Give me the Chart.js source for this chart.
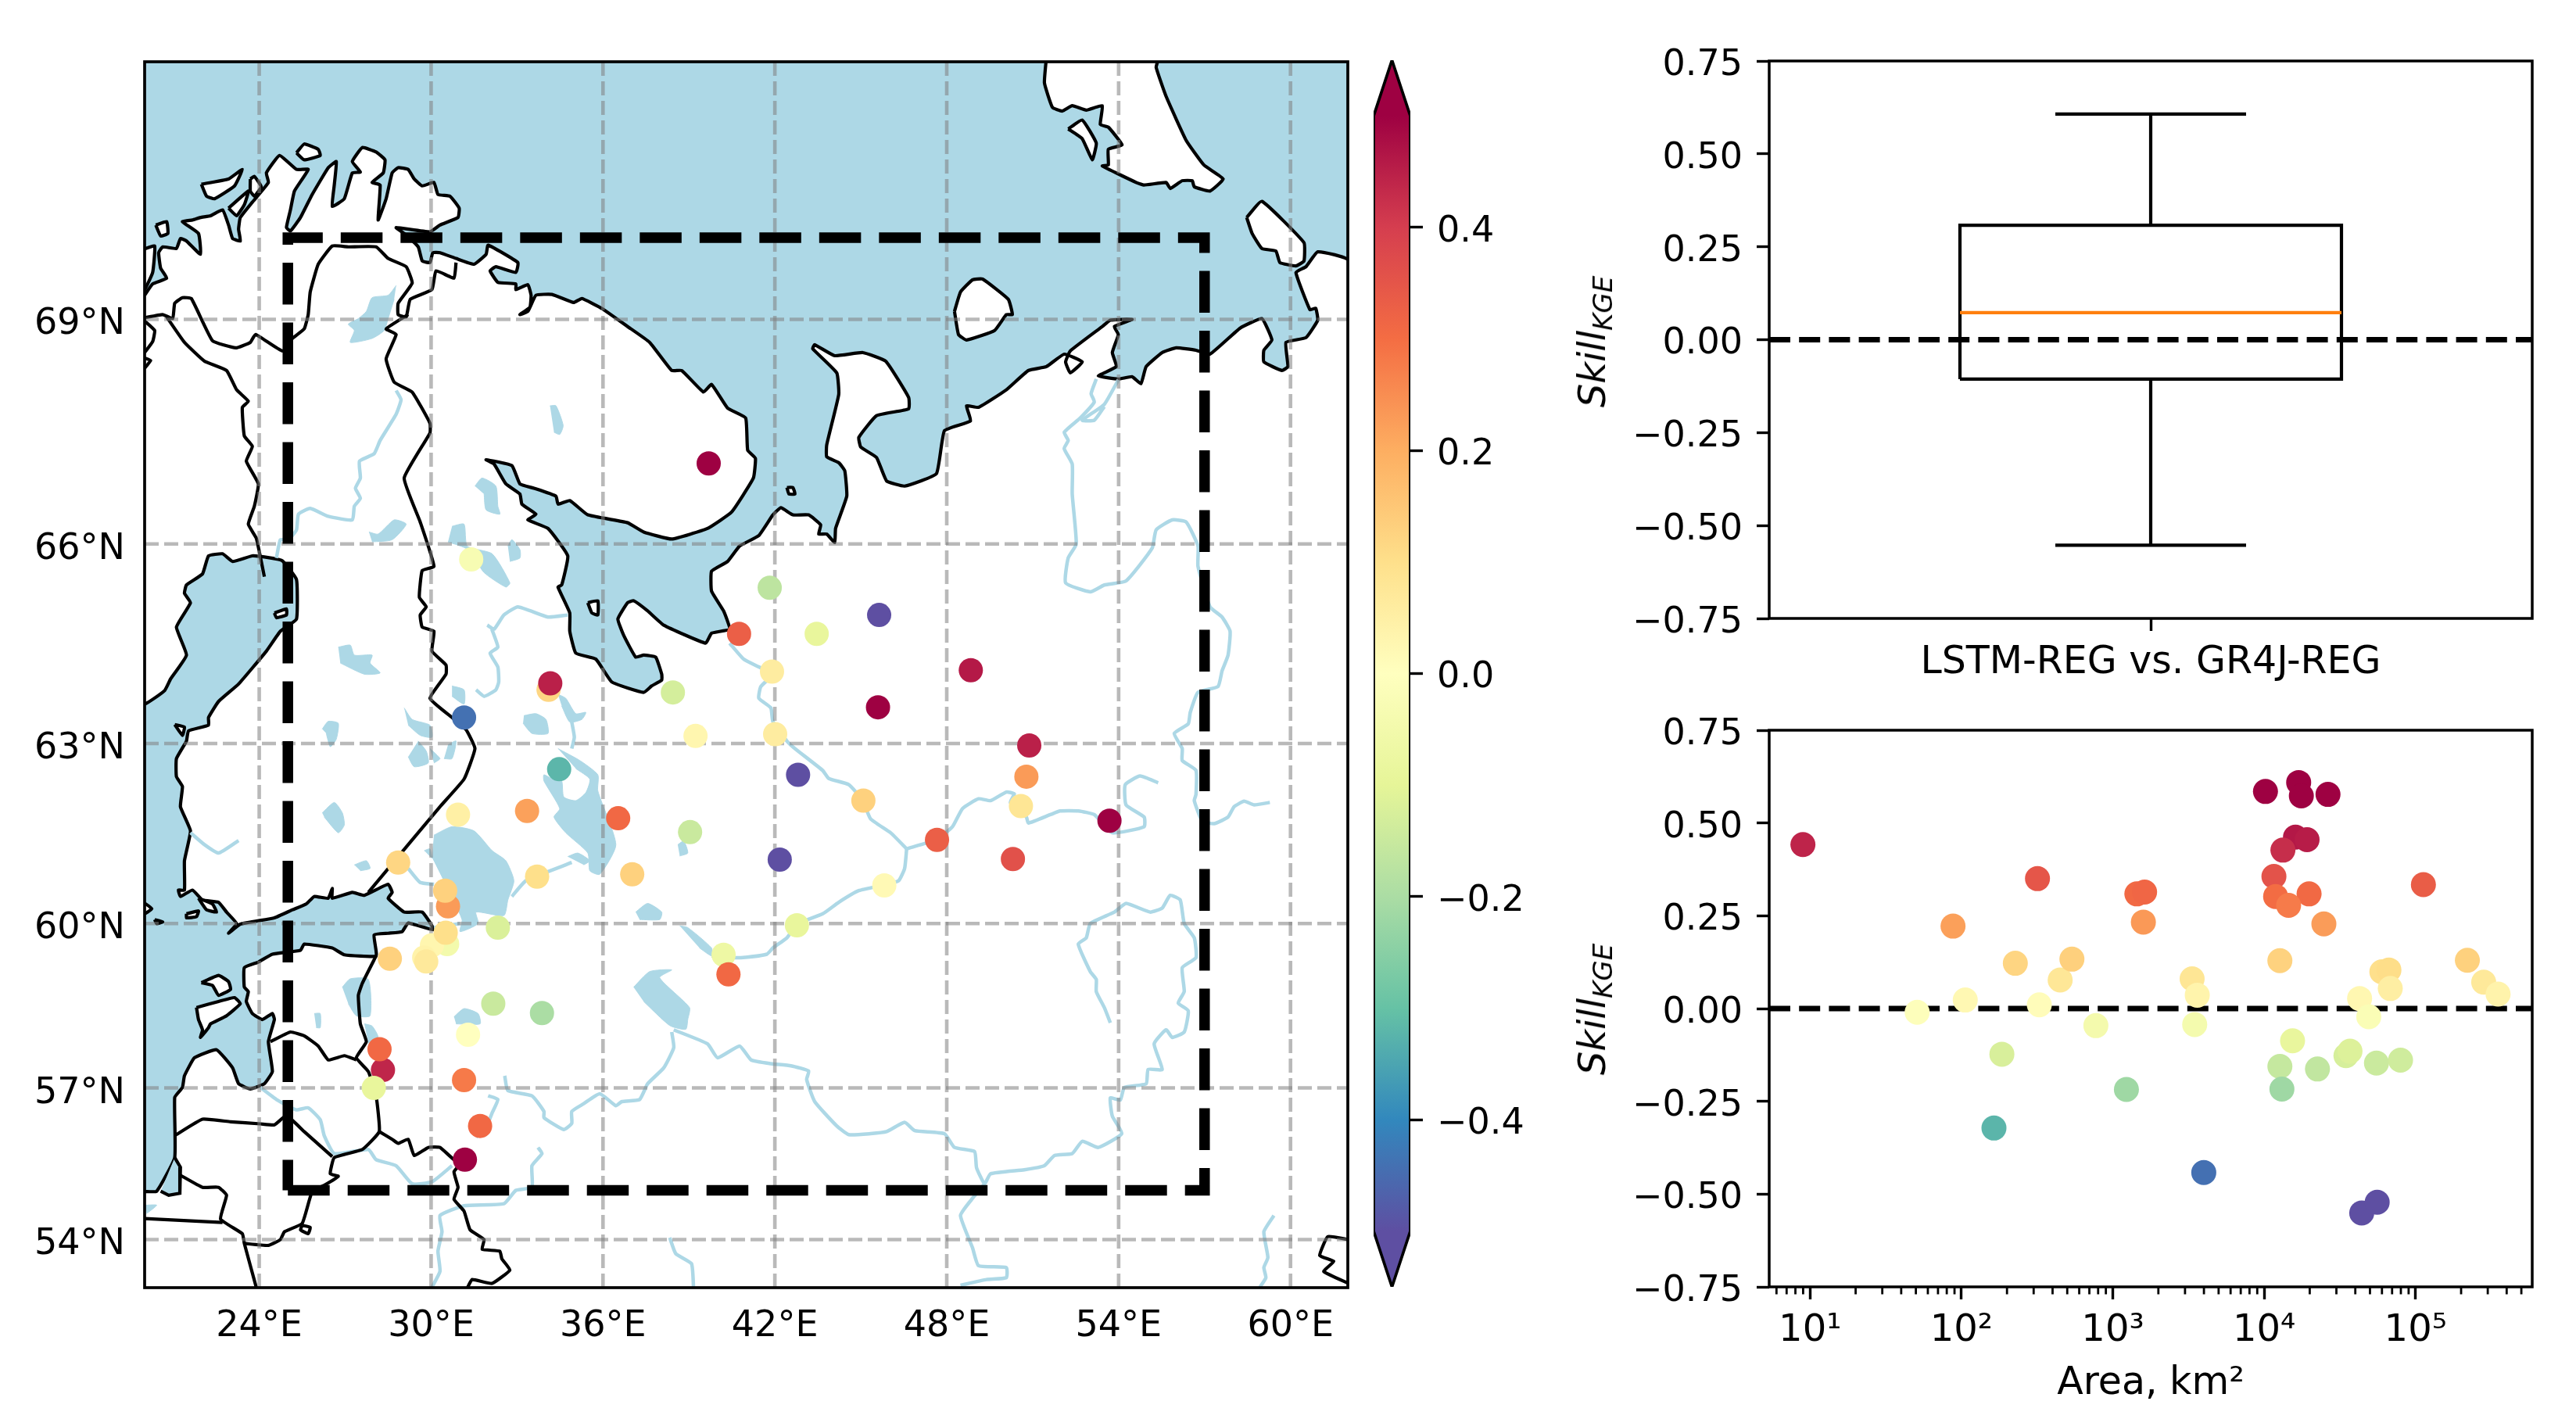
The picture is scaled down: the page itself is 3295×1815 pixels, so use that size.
<!DOCTYPE html>
<html>
<head>
<meta charset="utf-8">
<script src="https://cdn.jsdelivr.net/npm/chart.js@4"></script>
<style>
  html, body { margin: 0; padding: 0; background: #fff; }
  body { width: 3295px; height: 1815px; position: relative; overflow: hidden; }
  canvas { position: absolute; }
  .ylab { position: absolute; font: 48px "DejaVu Sans"; color: #000; white-space: nowrap; transform: translate(-50%, -50%) rotate(-90deg); }
  .ylab i { font-style: italic; }
  .ylab sub { font-size: 34px; font-style: italic; vertical-align: -9px; line-height: 0; }
</style>
</head>
<body>
<canvas id="chart-map" style="left:0;top:0" width="1740" height="1815"></canvas>
<canvas id="chart-cbar" style="left:1740px;top:0" width="250" height="1815"></canvas>
<canvas id="chart-box" style="left:1990px;top:0" width="1305" height="910"></canvas>
<canvas id="chart-area" style="left:1990px;top:850px" width="1305" height="965"></canvas>
<div class="ylab" style="left:2036px;top:437px"><i>Skill</i><sub>KGE</sub></div>
<div class="ylab" style="left:2036px;top:1291px"><i>Skill</i><sub>KGE</sub></div>
<script>
// gauges: lon, lat, skill
const stationLon = [39.69,31.40,40.75,34.10,34.16,41.82,43.46,45.64,48.84,41.90,38.44,39.23,31.15,34.47,30.94,33.35,36.53,39.04,28.85,30.59,30.49,33.70,37.02,32.33,30.56,30.03,30.51,29.76,29.83,28.56,40.21,40.38,32.17,33.87,31.29,28.32,28.20,28.00,31.15,31.71,31.18,45.60,50.88,42.81,50.78,45.09,50.59,53.68,47.66,50.31,42.17,45.82,42.77,42.01];
const stationLat = [67.12,65.78,64.69,63.84,63.94,65.37,64.69,64.97,64.14,64.12,63.80,63.12,63.41,62.59,61.85,61.91,61.79,61.56,61.05,60.30,60.57,60.81,60.85,59.93,59.64,59.62,59.84,59.40,59.33,59.38,59.45,59.10,58.57,58.40,58.00,57.34,57.73,57.00,57.15,56.27,55.61,63.57,62.97,62.50,62.47,62.08,61.99,61.75,61.43,61.11,61.10,60.66,59.97,63.15];
const stationSkill = [0.58,-0.03,0.33,0.12,0.45,-0.17,-0.09,-0.52,0.46,0.06,-0.13,0.03,-0.44,-0.32,0.05,0.22,0.31,-0.15,0.12,0.23,0.13,0.10,0.13,-0.12,-0.05,0.03,0.10,0.04,0.07,0.13,-0.07,0.31,-0.15,-0.20,0.00,0.44,0.31,-0.09,0.28,0.31,0.58,0.58,0.45,-0.55,0.23,0.13,0.08,0.60,0.33,0.36,-0.53,0.02,-0.09,0.06];

// skill against catchment area
const areaKm2 = [8.97,51,88,106,185,164,227,318,327,449,537,773,1230,1442,1622,1592,3342,3614,3476,3990,10200,16900,17600,26400,16100,19200,13300,11600,11900,19800,14500,24800,12700,15400,12700,13100,22500,34700,36900,42700,49100,55200,79600,44100,55800,59900,66700,68100,112700,220000,282000,351000];
const areaSkill = [0.442,-0.01,0.222,0.023,-0.123,-0.322,0.122,0.35,0.01,0.077,0.133,-0.046,-0.218,0.309,0.314,0.233,0.08,0.036,-0.043,-0.442,0.585,0.609,0.573,0.577,0.462,0.455,0.427,0.356,0.302,0.309,0.278,0.228,0.129,-0.087,-0.156,-0.217,-0.163,-0.127,-0.115,0.027,-0.022,-0.147,-0.139,-0.551,-0.522,0.099,0.104,0.054,0.334,0.13,0.071,0.039];

// boxplot stats
const boxLabel = 'LSTM-REG vs. GR4J-REG';
const boxLow = -0.553, boxQ1 = -0.106, boxMedian = 0.073, boxQ3 = 0.308, boxHigh = 0.607;

const skillTicks = [-0.75,-0.5,-0.25,0,0.25,0.5,0.75];
const cbarTicks = [-0.4,-0.2,0,0.2,0.4];
const lonTicks = [24,30,36,42,48,54,60];
const latTicks = [54,57,60,63,66,69];
const areaTicks = [10,100,1000,10000,100000];
const areaTickLabels = ['10¹','10²','10³','10⁴','10⁵'];
const spectralR = ['#5e4fa2','#3288bd','#66c2a5','#abdda4','#e6f598','#ffffbf','#fee08b','#fdae61','#f46d43','#d53e4f','#9e0142'];

// study area box and map extent, degrees
const studyBox = [25,55, 57,55, 57,70, 25,70, 25,55];
const seaExtent = [19,52, 63,52, 63,73, 19,73];

// coast, lon/lat pairs
const coastMain = [20.00,69.30,20.28,69.44,20.77,69.51,20.56,69.63,20.49,69.82,20.63,69.89,21.11,69.87,21.25,69.99,21.46,69.96,21.95,69.80,21.88,70.05,21.32,70.19,21.67,70.21,21.95,70.24,22.30,70.26,22.72,70.33,22.93,70.15,23.07,69.99,23.34,69.96,23.28,70.10,23.34,70.24,23.76,70.42,24.32,70.65,24.25,70.76,24.71,70.96,25.30,70.80,25.71,70.80,25.23,70.55,25.09,70.33,24.95,70.12,25.09,70.08,25.44,70.24,25.85,70.51,26.41,70.82,26.69,70.89,26.62,70.62,26.55,70.37,26.97,70.46,27.25,70.76,27.53,70.77,27.25,70.89,27.60,71.05,28.08,71.00,28.39,70.91,28.33,70.76,27.94,70.65,28.22,70.62,28.15,70.21,28.43,70.46,28.64,70.76,28.85,70.82,29.20,70.80,29.41,70.69,29.69,70.61,30.10,70.65,30.24,70.51,30.66,70.49,30.98,70.35,30.94,70.24,30.31,70.15,29.96,70.07,28.78,70.12,29.06,70.05,29.55,69.89,29.69,69.72,29.96,69.70,30.06,69.82,30.31,69.82,30.87,69.75,31.50,69.68,31.92,69.80,31.99,69.91,33.03,69.70,32.96,69.58,32.26,69.65,32.06,69.60,32.33,69.46,32.96,69.44,32.96,69.37,33.38,69.43,33.49,69.30,33.45,69.15,33.10,69.06,33.38,69.10,33.66,69.30,34.22,69.31,34.98,69.21,35.26,69.26,35.99,69.13,36.86,68.91,37.63,68.71,38.40,68.35,38.75,68.35,39.51,68.07,39.79,68.17,40.35,67.86,40.98,67.73,41.05,67.30,41.32,67.19,41.25,66.92,40.49,66.45,39.65,66.22,38.40,66.07,37.42,66.17,36.86,66.30,35.47,66.41,34.84,66.61,34.43,66.56,34.36,66.67,33.59,66.78,33.10,66.84,32.82,67.09,31.92,67.17,32.20,67.11,32.61,66.84,33.10,66.70,33.17,66.56,33.66,66.42,33.38,66.34,34.08,66.22,34.77,65.83,34.56,65.41,34.43,65.38,34.84,65.00,34.84,64.73,35.05,64.40,35.75,64.31,36.31,63.96,37.42,63.80,37.70,63.90,38.05,63.99,38.05,64.08,37.84,64.34,37.42,64.37,37.14,64.34,36.72,64.67,36.52,64.91,36.86,65.15,37.07,65.18,37.56,65.03,38.12,64.82,39.58,64.55,39.79,64.70,40.42,64.76,40.21,65.03,39.79,65.32,39.79,65.61,40.35,65.75,40.77,65.97,41.44,66.12,41.93,66.41,42.21,66.51,42.63,66.41,43.18,66.41,43.60,66.27,43.53,66.14,43.81,66.14,44.09,66.02,44.12,66.22,44.51,66.67,44.44,67.02,44.23,67.13,43.81,67.21,43.81,67.37,44.23,68.04,44.16,68.32,43.32,68.63,43.39,68.68,44.09,68.54,45.07,68.58,45.87,68.47,46.67,68.00,46.67,67.85,45.55,67.76,44.93,67.47,45.00,67.34,45.55,67.20,45.90,66.88,46.53,66.81,47.64,66.98,47.92,67.56,48.83,67.69,48.69,67.89,49.11,67.87,50.08,68.10,50.85,68.35,51.48,68.40,52.10,68.56,52.73,68.46,52.31,68.32,52.15,68.46,52.31,68.60,53.43,68.91,53.71,68.99,54.47,69.00,53.85,68.91,53.99,68.81,53.78,68.58,53.92,68.40,53.29,68.28,53.99,68.24,54.47,68.27,54.78,68.18,54.96,68.40,55.52,68.58,56.01,68.64,56.70,68.61,57.19,68.56,58.24,68.89,59.00,69.01,59.35,68.74,59.07,68.61,59.07,68.46,59.70,68.35,59.91,68.40,59.84,68.71,60.54,68.77,60.95,68.99,60.88,69.14,60.68,69.12,60.19,69.58,60.54,69.65,60.95,69.83,62.05,69.72,62.05,52.95,19.95,52.95,19.95,54.96,20.42,54.98,21.05,55.65,21.05,56.82,21.32,57.01,21.39,57.23,21.74,57.57,22.51,57.72,23.07,57.38,23.28,57.08,23.69,56.98,24.18,57.08,24.46,57.31,24.32,57.87,24.53,58.28,24.46,58.39,24.11,58.28,23.76,58.39,23.55,58.61,23.62,58.79,23.48,58.87,23.48,59.22,23.97,59.32,24.46,59.46,25.44,59.53,25.57,59.64,26.55,59.57,26.97,59.45,28.08,59.43,28.01,59.80,28.50,59.83,28.99,59.86,29.20,60.01,30.10,59.89,29.69,60.20,29.06,60.20,28.50,60.44,28.64,60.54,28.50,60.68,27.67,60.49,27.25,60.54,26.55,60.44,26.55,60.61,26.41,60.44,25.92,60.47,25.64,60.34,25.16,60.24,24.53,60.10,23.34,59.99,22.93,59.83,23.21,60.00,22.86,60.20,22.58,60.37,22.02,60.41,21.67,60.58,21.25,60.47,21.18,60.58,21.39,60.58,21.39,61.08,21.60,61.58,21.25,61.98,21.32,62.31,21.11,62.47,21.11,62.76,21.46,63.04,21.53,63.20,22.23,63.29,22.23,63.41,22.58,63.66,23.28,63.93,24.25,64.43,24.74,64.73,25.30,64.91,25.30,65.49,24.81,65.76,24.39,65.80,23.76,65.83,23.07,65.75,22.72,65.86,22.23,65.83,22.02,65.57,21.46,65.41,21.39,65.29,21.60,65.15,21.11,64.79,21.46,64.37,20.91,64.01,20.70,63.83,19.95,63.62,19.95,69.30];
const islands = [
  [25.30,70.99,25.57,71.09,26.06,71.03,26.13,70.96,25.57,70.91],
  [21.98,70.63,22.93,70.69,23.41,70.80,23.14,70.61,22.44,70.46,22.16,70.49],
  [22.93,70.35,23.62,70.55,23.48,70.39,23.21,70.26],
  [23.69,70.69,23.83,70.72,24.07,70.60,23.83,70.49,23.69,70.55],
  [20.39,70.15,20.77,70.19,20.81,70.05,20.56,70.02],
  [19.95,69.86,20.35,69.90,20.28,69.58,19.95,69.34],
  [48.27,69.10,48.48,69.34,48.90,69.49,49.25,69.50,50.15,69.25,50.29,69.06,50.08,69.06,49.67,68.86,48.69,68.74,48.41,68.81],
  [58.47,70.24,59.00,70.43,60.47,69.94,60.47,69.72,60.19,69.66,59.63,69.70,59.49,69.84,59.00,69.87,58.66,70.05],
  [51.48,72.05,51.41,71.77,51.69,71.50,52.03,71.46,52.38,71.52,52.87,71.47,53.43,71.52,53.36,71.31,53.64,71.28,54.12,71.08,53.64,71.03,53.64,70.85,53.43,70.84,54.61,70.65,54.89,70.62,55.66,70.65,55.80,70.58,56.22,70.67,56.57,70.67,56.64,70.60,57.19,70.55,57.65,70.69,56.98,70.85,56.36,71.13,55.66,71.62,55.31,71.94,55.38,72.05],
  [52.24,71.26,52.73,71.36,53.22,71.10,53.08,70.91,52.73,71.15],
  [42.42,66.79,42.63,66.79,42.70,66.70,42.49,66.70],
  [35.47,65.15,35.82,65.18,35.82,64.97,35.61,65.00],
  [24.53,65.00,24.95,65.06,24.95,64.97,24.60,64.93],
  [21.98,58.95,22.58,59.08,22.93,58.97,23.00,58.83,22.58,58.72,22.37,58.90],
  [21.81,58.50,22.58,58.61,23.14,58.68,23.34,58.57,22.86,58.35,22.30,58.20,22.23,58.13,21.95,57.95,22.02,58.09,21.88,58.28],
  [19.95,60.37,20.25,60.26,19.95,60.16],
  [20.35,60.07,20.63,60.03,20.42,60.00],
  [21.46,60.17,21.88,60.22,21.81,60.12,21.46,60.10],
  [21.88,60.44,22.37,60.34,22.51,60.20,22.16,60.24],
  [21.05,63.30,21.39,63.26,21.32,63.13]
];
const lagoons = [[21.05,55.65,21.25,55.46,21.23,54.94,20.84,54.90,20.56,54.98]];
const borders = [
  [20.00,69.02,20.63,69.06,20.98,69.01,21.05,69.20,21.32,69.27,21.63,69.26,22.37,68.73,23.18,68.64,23.69,68.71,23.87,68.81,24.81,68.60,25.16,68.76,25.57,68.88,25.71,69.06,25.78,69.34,26.06,69.68,26.55,69.90,27.11,69.89,28.08,69.89,28.50,69.75,29.13,69.65,29.34,69.45,28.85,69.20,28.85,69.06,29.13,69.03,29.27,69.25,30.03,69.37,30.17,69.60,30.80,69.51,30.87,69.70],
  [20.77,69.03,21.39,68.71,22.09,68.47,22.86,68.35,23.21,68.10,23.62,67.95,23.41,67.87,23.48,67.49,23.76,67.35,23.55,67.15,23.97,66.84,23.83,66.53,23.62,66.28,23.90,66.08,24.18,65.53],
  [29.20,69.06,28.43,68.88,28.78,68.81,28.43,68.50,28.71,68.20,29.34,68.07,29.96,67.66,29.96,67.53,29.06,66.92,29.62,66.31,30.10,65.68,29.69,65.62,29.59,65.23,29.83,65.09,29.62,64.97,29.69,64.79,30.10,64.73,30.03,64.43,30.52,64.22,30.52,64.08,29.96,63.71,30.73,63.41,31.22,63.22,31.53,62.92,31.15,62.43,30.31,61.98,29.20,61.35,27.81,60.54],
  [28.08,59.43,27.60,58.94,27.46,58.72,27.53,58.20,27.74,57.87,27.39,57.57,27.81,57.31,28.08,56.85,28.19,56.16,27.60,55.81,26.62,55.65,26.48,55.33,26.76,55.28,26.27,55.10,25.85,54.98,25.50,54.33,24.88,54.16,24.74,54.00,24.32,53.88,23.48,53.92],
  [24.39,57.87,25.09,58.05,25.57,57.98,26.06,57.79,26.41,57.53,26.97,57.61,27.39,57.53],
  [21.05,56.08,22.02,56.40,23.00,56.35,24.04,56.31,24.53,56.29,24.95,56.47,25.57,56.16,26.55,55.67],
  [28.19,56.16,28.64,56.01,28.85,55.93,29.20,56.01,29.41,55.69,29.90,55.85,30.31,55.85,30.80,55.61,31.15,55.61,30.80,55.37,30.94,55.06,30.80,54.82,31.15,54.58,31.36,54.20,31.85,54.00,31.78,53.80,32.40,53.76,32.47,53.60,32.75,53.37,32.13,53.09,31.43,53.17,31.26,52.99],
  [21.25,55.30,22.02,55.06,22.58,55.06,22.86,54.90,22.65,54.42,23.41,54.12,23.48,53.92,23.90,53.00],
  [22.72,54.35,20.00,54.43],
  [25.50,54.29,25.78,54.25,25.71,54.12,25.44,54.20,25.50,54.29],
  [62.02,54.00,61.30,54.06,61.02,53.67,61.51,53.55,61.16,53.34,62.02,53.09],
  [20.00,68.98,20.35,68.86,20.28,68.72,20.00,68.58],
  [20.00,68.51,20.21,68.48,20.00,68.38]
];
const lakes = [
  [28.78,69.42,28.50,69.30,27.94,69.27,27.74,69.10,27.46,69.01,27.11,68.94,27.32,68.86,27.18,68.71,27.94,68.76,28.36,68.86,28.50,69.01,28.71,69.25],
  [34.15,67.89,34.36,67.89,34.61,67.63,34.49,67.51,34.29,67.54],
  [31.53,66.81,31.78,66.92,32.26,66.81,32.33,66.53,32.40,66.42,31.92,66.48,31.85,66.70],
  [30.73,66.25,31.15,66.28,31.26,65.97,32.13,65.86,32.75,65.44,32.61,65.38,31.85,65.59,31.29,65.92,30.59,66.03],
  [32.68,65.97,32.82,66.06,33.10,65.92,33.10,65.80,32.75,65.75],
  [27.83,66.17,28.15,66.14,28.71,66.34,29.13,66.28,28.64,66.06,27.94,66.03],
  [26.76,64.49,27.18,64.52,27.32,64.37,27.94,64.37,27.87,64.25,28.22,64.10,27.67,64.08,26.83,64.25],
  [30.73,63.90,31.15,63.84,31.15,63.62,30.73,63.74],
  [34.43,63.77,34.70,63.71,35.05,63.47,35.40,63.49,35.26,63.38,34.84,63.34,34.56,63.59],
  [33.24,63.44,33.66,63.47,34.01,63.38,34.08,63.16,33.52,63.16,33.21,63.32],
  [29.06,63.56,29.34,63.38,29.96,63.29,30.03,63.10,29.62,63.13,29.20,63.29],
  [26.20,63.23,26.41,63.35,26.76,63.32,26.69,63.07,26.48,62.95,26.34,63.16],
  [29.55,63.04,29.83,62.88,29.90,62.69,29.41,62.63,29.20,62.79],
  [29.96,62.92,30.31,62.76,30.10,62.69],
  [30.59,62.98,30.87,63.04,30.73,62.76,30.45,62.76],
  [34.43,62.92,35.19,62.73,35.82,62.50,35.82,62.24,36.45,61.35,35.89,60.85,35.54,60.91,35.47,61.21,34.70,61.55,34.29,61.81,34.49,61.95,33.94,62.40,33.94,62.50,34.36,62.40,34.56,62.40,34.63,62.14,35.05,62.08,35.40,62.21,35.54,62.43,35.05,62.60],
  [30.10,61.51,30.73,61.65,31.50,61.58,32.13,61.25,32.61,61.08,32.89,60.74,32.68,60.41,32.54,60.14,31.57,60.20,31.64,60.00,31.01,59.86,31.08,60.07,30.45,60.74,30.03,61.15],
  [29.76,61.25,29.96,61.28,30.03,61.12],
  [30.80,58.33,31.15,58.48,31.64,58.39,31.71,58.20,30.87,58.20],
  [26.90,58.87,27.18,59.02,27.81,59.01,27.87,58.35,27.39,58.35,27.11,58.57],
  [25.92,58.39,26.13,58.39,26.13,58.13,25.99,58.13],
  [27.67,58.20,27.94,58.16,28.15,57.95,27.81,57.84],
  [37.07,58.87,37.63,59.15,38.40,59.18,37.98,59.04,39.02,58.50,38.96,58.28,38.89,58.10,38.33,58.17,37.42,58.61],
  [37.14,60.20,37.56,60.35,38.05,60.20,37.98,60.07,37.28,60.07],
  [26.20,61.88,26.62,62.05,26.90,61.88,26.97,61.68,26.76,61.55,26.27,61.81],
  [38.61,61.35,38.82,61.41,38.96,61.21,38.68,61.16],
  [27.32,61.01,27.74,61.08,27.87,60.95,27.53,60.91],
  [38.68,59.96,38.96,59.93,39.79,59.57,39.79,59.43,39.37,59.57],
  [34.77,61.15,35.12,61.21,35.54,61.08,35.33,61.01],
  [20.00,54.70,20.42,54.70,20.07,54.53]
];
const rivers = [
  [28.78,68.09,28.95,67.97,28.78,67.78,28.22,67.43,28.01,67.25,27.50,67.15,27.53,66.92,27.36,66.78,27.53,66.64,27.32,66.53,27.25,66.34,26.41,66.39,25.78,66.50,25.37,66.42,25.30,66.20,25.02,66.06,24.74,66.06,24.60,65.80],
  [31.96,64.82,32.20,64.76,32.54,64.97,33.03,65.09,34.08,64.94,34.77,64.97],
  [32.12,64.76,32.33,64.49,32.06,64.40,32.33,64.19,32.36,63.96,32.26,63.84,31.85,63.74,31.57,63.84],
  [53.22,68.24,53.04,68.05,53.15,67.94,52.66,67.73,52.10,67.54,52.24,67.43,52.10,67.32,52.38,67.11,52.38,66.70,52.52,66.00,52.24,65.80,52.15,65.44,53.01,65.31,53.50,65.41,54.26,65.47,55.17,65.94,55.31,66.20,55.87,66.34,56.36,66.31,56.77,65.97,56.77,65.68,57.19,65.09,57.61,64.94,57.89,64.73,57.82,64.37,57.61,64.13,57.47,63.89,56.77,63.80,56.50,63.49,56.43,63.31,55.94,63.16,56.22,62.92,56.22,62.73,56.70,62.57,56.70,62.18,56.64,62.08,56.91,61.75,57.33,61.70,57.82,61.81,58.03,61.98,58.38,62.07,58.73,62.01,59.28,62.05],
  [53.99,68.23,53.50,67.91,52.73,67.70,53.15,67.70,53.50,67.88],
  [40.42,64.55,40.91,64.31,41.44,64.19,41.93,64.08,41.51,63.89,41.44,63.71,41.86,63.56,41.93,63.35,42.42,63.04,42.70,62.92,43.67,62.57,43.88,62.44,44.58,62.34,45.07,62.08,45.34,61.78,46.04,61.55,46.60,61.28],
  [46.60,61.28,47.66,61.44,48.20,61.65,48.55,61.95,49.11,62.11,49.53,62.08,50.08,62.22,50.36,62.19,50.22,62.05,50.78,61.81,50.85,61.71,51.62,61.85,51.96,61.91,52.59,61.91,53.15,61.85,53.78,61.55,54.89,61.65,54.89,61.81,54.26,62.01,54.23,62.34,54.75,62.48,55.38,62.37],
  [46.60,61.28,46.53,60.95,46.32,60.74,45.83,60.67,44.93,60.57,44.23,60.37,43.67,60.17,42.77,59.99,42.42,59.75,41.93,59.57,41.72,59.46,40.89,59.40,40.49,59.40,39.79,59.43],
  [38.40,58.05,38.47,57.76,38.12,57.38,37.56,57.08,37.28,56.78,36.66,56.74,36.45,56.66,35.89,56.89,35.33,56.70,34.91,56.55,34.91,56.32,34.63,56.20,33.94,56.43,33.94,56.55,33.52,56.85,32.68,56.95,32.57,57.23],
  [38.47,58.09,39.65,57.83,40.00,57.57,40.77,57.79,41.17,57.53,41.86,57.46,42.56,57.42,43.18,57.32,43.11,57.16,43.39,56.74,44.16,56.27,44.58,56.10,45.34,56.12,45.90,56.16,46.53,56.34,46.88,56.18,47.92,56.12,48.27,55.85,48.97,55.77,49.04,55.45,49.32,55.13,49.53,55.33,50.71,55.41,51.41,55.49,51.76,55.69,52.38,55.73,52.73,55.97,53.29,55.85,54.11,56.12,53.78,56.46,53.71,56.81,54.06,56.77,54.20,57.01,54.96,57.08,55.03,57.35,55.52,57.35,55.24,57.83,55.66,58.09,55.87,57.95,56.29,58.05,56.43,58.44,56.08,58.58,56.29,58.79,56.22,59.22,56.70,59.40,56.64,59.75,56.29,60.00,56.15,60.41,55.80,60.49,55.52,60.27,55.10,60.20,54.26,60.35,53.85,60.20,53.01,60.00,52.87,59.75,52.59,59.64,53.01,59.15,53.22,59.01,53.22,58.79,53.50,58.50,53.71,58.22],
  [49.32,55.13,48.86,54.81,48.48,54.49,48.90,53.83,49.11,53.46,50.08,53.42,50.08,53.21,49.39,53.17,48.48,53.05],
  [59.42,54.49,59.07,54.16,59.21,53.63,59.07,53.42,59.14,53.21,58.93,53.01],
  [24.04,57.01,24.60,56.78,25.30,56.58,25.71,56.62,26.13,56.39,26.27,56.08,26.62,55.73,27.81,55.81,28.08,55.61,28.78,55.49,29.34,55.13,30.03,55.17,30.73,55.49],
  [31.99,56.85,32.33,56.78,32.12,56.51,31.92,56.24,31.57,56.05],
  [33.73,55.85,33.87,55.73,33.52,55.49,33.52,55.06,32.96,55.00,32.54,54.73,31.15,54.69,30.31,54.49,30.38,54.16,30.24,53.76,30.31,53.34,30.03,53.01],
  [38.33,54.04,38.54,53.71,39.09,53.50,39.16,53.01],
  [29.20,60.95,29.62,60.71,30.10,60.68],
  [30.10,59.93,31.01,60.00],
  [32.82,60.47,33.31,60.74,34.91,61.05],
  [21.60,61.55,22.09,61.35,22.58,61.21,23.28,61.42],
  [34.91,63.34,35.00,63.10,34.91,62.92]
];

const SEA = '#add8e6';
const FONT = 'DejaVu Sans';
const FS = 46;
const FS_LABEL = 49;
const COAST_W = 4.2;

Chart.defaults.font.family = FONT;
Chart.defaults.font.size = FS;
Chart.defaults.color = '#000';
Chart.defaults.animation = false;
Chart.defaults.responsive = false;
Chart.defaults.devicePixelRatio = 1;
Chart.defaults.events = [];
Chart.defaults.plugins.legend.display = false;
Chart.defaults.plugins.tooltip.enabled = false;

// Mercator northing in degrees, the map's y axis
const merc = (lat) => Math.log(Math.tan(Math.PI / 4 + lat * Math.PI / 360)) * 180 / Math.PI;
const minus = (s) => s.replace('-', '\u2212');

const hexToRgb = (h) => [1, 3, 5].map(i => parseInt(h.slice(i, i + 2), 16));
const spectral = (v) => {
    const t = Math.max(0, Math.min(1, v + 0.5)) * (spectralR.length - 1);
    const i = Math.min(Math.floor(t), spectralR.length - 2);
    const a = hexToRgb(spectralR[i]), b = hexToRgb(spectralR[i + 1]);
    const c = a.map((x, k) => Math.round(x + (b[k] - x) * (t - i)));
    return `rgb(${c[0]},${c[1]},${c[2]})`;
};

const toPts = (flat) => {
    const pts = [];
    for (let i = 0; i < flat.length; i += 2) pts.push({ x: flat[i], y: merc(flat[i + 1]) });
    return pts;
};

const outline = (data, o) => Object.assign({ data, showLine: true, pointRadius: 0, borderWidth: 0, fill: false, tension: 0, spanGaps: true }, o);

// draws the full axes box, matplotlib style
const framePlugin = (lw) => ({
    id: 'frame',
    afterDatasetsDraw(chart) {
        const { ctx, chartArea: a } = chart;
        ctx.save();
        ctx.strokeStyle = '#000';
        ctx.lineWidth = lw;
        ctx.strokeRect(a.left, a.top, a.right - a.left, a.bottom - a.top);
        ctx.restore();
    }
});

// canvas 'middle' sits above the digit centre, push y labels down to the tick
const centreYLabels = (dy) => ({
    id: 'centreYLabels',
    beforeDraw(chart) {
        chart.scales.y.getLabelItems().forEach(item => { item.options.translation[1] += dy; });
    }
});

const fixedTicks = (vals) => (scale) => { scale.ticks = vals.map(value => ({ value })); };

const yAxis = (vals, width, extra) => Object.assign({
    type: 'linear',
    afterBuildTicks: fixedTicks(vals),
    afterFit: (s) => { s.width = width; },
    border: { display: false },
    grid: { drawOnChartArea: false, tickLength: 16, tickColor: '#000', tickWidth: 3.4 },
    ticks: { autoSkip: false, padding: 18, color: '#000', callback: (v) => minus(v.toFixed(2)) }
}, extra);

const order = (sets) => { sets.forEach((d, i) => { d.order = sets.length - i; }); return sets; };

// ---- map ----
const renderMap = () => {
    const sets = [];
    sets.push(outline(toPts(seaExtent), { fill: 'shape', backgroundColor: SEA }));
    sets.push(outline(toPts(coastMain), { fill: 'shape', backgroundColor: '#fff', borderColor: '#000', borderWidth: COAST_W, tension: 0.12 }));
    islands.forEach(p => sets.push(outline(toPts(p.concat(p.slice(0, 2))), { fill: 'shape', backgroundColor: '#fff', borderColor: '#000', borderWidth: COAST_W, tension: 0.12 })));
    lagoons.forEach(p => sets.push(outline(toPts(p), { fill: 'shape', backgroundColor: SEA, borderColor: '#000', borderWidth: COAST_W })));
    lakes.forEach(p => sets.push(outline(toPts(p), { fill: 'shape', backgroundColor: SEA, borderColor: SEA, borderWidth: 1, tension: 0.2 })));
    rivers.forEach(p => sets.push(outline(toPts(p), { borderColor: SEA, borderWidth: 4.5, tension: 0.15 })));
    borders.forEach(p => sets.push(outline(toPts(p), { borderColor: '#000', borderWidth: COAST_W, tension: 0.12 })));
    lonTicks.forEach(lon => sets.push(outline(toPts([lon, 53, lon, 72]), { borderColor: 'rgba(128,128,128,0.55)', borderWidth: 4.6, borderDash: [18, 7] })));
    latTicks.forEach(lat => sets.push(outline(toPts([20, lat, 62, lat]), { borderColor: 'rgba(128,128,128,0.55)', borderWidth: 4.6, borderDash: [18, 7] })));
    sets.push(outline(toPts(studyBox), { borderColor: '#000', borderWidth: 13.5, borderDash: [53.5, 23] }));
    sets.push({
        data: stationLon.map((lon, i) => ({ x: lon, y: merc(stationLat[i]) })),
        pointRadius: 15.5,
        pointBorderWidth: 0,
        pointBackgroundColor: stationSkill.map(spectral)
    });

    new Chart(document.getElementById('chart-map'), {
        type: 'scatter',
        data: { datasets: order(sets) },
        options: {
            layout: { autoPadding: false, padding: { left: 25, top: 79, right: 16, bottom: 8 } },
            scales: {
                x: {
                    type: 'linear', min: 20, max: 62,
                    afterBuildTicks: fixedTicks(lonTicks),
                    afterFit: (s) => { s.height = 160; },
                    border: { display: false },
                    grid: { display: false, drawTicks: false },
                    ticks: { autoSkip: false, maxRotation: 0, padding: 22, color: '#000', callback: (v) => v + '°E' }
                },
                y: {
                    type: 'linear', min: merc(53), max: merc(72),
                    afterBuildTicks: fixedTicks(latTicks.map(merc)),
                    afterFit: (s) => { s.width = 160; },
                    border: { display: false },
                    grid: { display: false, drawTicks: false },
                    ticks: { autoSkip: false, padding: 25, color: '#000', callback: (v, i) => latTicks[i] + '°N' }
                }
            }
        },
        plugins: [framePlugin(3.7), centreYLabels(7)]
    });
};

// ---- colour bar ----
const renderColorbar = () => {
    new Chart(document.getElementById('chart-cbar'), {
        type: 'scatter',
        data: {
            datasets: [outline([
                { x: 0, y: 0.5 }, { x: 0.5, y: 0.55 }, { x: 1, y: 0.5 }, { x: 1, y: -0.5 }, { x: 0.5, y: -0.55 }, { x: 0, y: -0.5 }, { x: 0, y: 0.5 }
            ], {
                fill: 'shape',
                borderColor: '#000',
                borderWidth: 3.7,
                backgroundColor: (c) => {
                    const { chart } = c;
                    if (!chart.chartArea) return spectralR[5];
                    const y = chart.scales.y;
                    const g = chart.ctx.createLinearGradient(0, y.getPixelForValue(-0.5), 0, y.getPixelForValue(0.5));
                    spectralR.forEach((col, i) => g.addColorStop(i / (spectralR.length - 1), col));
                    return g;
                }
            })]
        },
        options: {
            layout: { autoPadding: false, padding: { left: 17, top: 77, right: 36, bottom: 169 } },
            scales: {
                x: { type: 'linear', min: 0, max: 1, display: false },
                y: yAxis(cbarTicks, 150, {
                    position: 'right', min: -0.55, max: 0.55,
                    ticks: { autoSkip: false, padding: 18, color: '#000', callback: (v) => minus(v.toFixed(1)) }
                })
            }
        },
        plugins: [centreYLabels(6)]
    });
};

// ---- boxplot ----
const renderBox = () => {
    const black = { borderColor: '#000', borderWidth: 4.2 };
    const line = (a, b, c, d, o) => outline([{ x: a, y: b }, { x: c, y: d }], o);
    const sets = [
        line(1, boxQ3, 1, boxHigh, black),
        line(1, boxQ1, 1, boxLow, black),
        line(0.875, boxHigh, 1.125, boxHigh, black),
        line(0.875, boxLow, 1.125, boxLow, black),
        outline([{ x: 0.75, y: boxQ1 }, { x: 1.25, y: boxQ1 }, { x: 1.25, y: boxQ3 }, { x: 0.75, y: boxQ3 }, { x: 0.75, y: boxQ1 }], black),
        line(0.75, boxMedian, 1.25, boxMedian, { borderColor: '#ff7f0e', borderWidth: 4.2 }),
        line(0.5, 0, 1.5, 0, { borderColor: '#000', borderWidth: 6.8, borderDash: [27, 11.2] })
    ];
    new Chart(document.getElementById('chart-box'), {
        type: 'scatter',
        data: { datasets: order(sets) },
        options: {
            layout: { autoPadding: false, padding: { left: 23, top: 78, right: 56, bottom: 19 } },
            scales: {
                x: {
                    type: 'linear', min: 0.5, max: 1.5,
                    afterBuildTicks: fixedTicks([1]),
                    afterFit: (s) => { s.height = 100; },
                    border: { display: false },
                    grid: { drawOnChartArea: false, tickLength: 16, tickColor: '#000', tickWidth: 3.4 },
                    ticks: { autoSkip: false, maxRotation: 0, padding: 12, color: '#000', font: { size: FS_LABEL }, callback: () => boxLabel }
                },
                y: yAxis(skillTicks, 250, { min: -0.75, max: 0.75 })
            }
        },
        plugins: [framePlugin(3.5), centreYLabels(6)]
    });
};

// ---- skill vs area ----
const minorTicks = {
    id: 'minorTicks',
    afterDraw(chart) {
        const { ctx, scales: { x }, chartArea: a } = chart;
        ctx.save();
        ctx.strokeStyle = '#000';
        ctx.lineWidth = 2.8;
        areaTicks.concat([1]).forEach(decade => {
            for (let m = 2; m <= 9; m++) {
                const v = decade * m;
                if (v < x.min || v > x.max) continue;
                const px = x.getPixelForValue(v);
                ctx.beginPath();
                ctx.moveTo(px, a.bottom);
                ctx.lineTo(px, a.bottom + 9.5);
                ctx.stroke();
            }
        });
        ctx.restore();
    }
};

const renderArea = () => {
    const sets = [
        outline([{ x: 5.37, y: 0 }, { x: 5.9e5, y: 0 }], { borderColor: '#000', borderWidth: 6.8, borderDash: [27, 11.2] }),
        {
            data: areaKm2.map((a, i) => ({ x: a, y: areaSkill[i] })),
            pointRadius: 16,
            pointBorderWidth: 0,
            pointBackgroundColor: areaSkill.map(spectral)
        }
    ];
    new Chart(document.getElementById('chart-area'), {
        type: 'scatter',
        data: { datasets: order(sets) },
        options: {
            layout: { autoPadding: false, padding: { left: 23, top: 84, right: 56, bottom: 15 } },
            scales: {
                x: {
                    type: 'logarithmic', min: 5.37, max: 5.9e5,
                    afterBuildTicks: fixedTicks(areaTicks),
                    afterFit: (s) => { s.height = 154; },
                    border: { display: false },
                    grid: { drawOnChartArea: false, tickLength: 16, tickColor: '#000', tickWidth: 3.4 },
                    ticks: { autoSkip: false, maxRotation: 0, padding: 12, color: '#000', font: { size: 48 }, callback: (v, i) => areaTickLabels[i] },
                    title: { display: true, text: 'Area, km²', color: '#000', padding: 0, font: { size: FS_LABEL } }
                },
                y: yAxis(skillTicks, 250, { min: -0.75, max: 0.75 })
            }
        },
        plugins: [framePlugin(3.5), minorTicks, centreYLabels(6)]
    });
};

renderMap();
renderColorbar();
renderBox();
renderArea();
</script>
</body>
</html>
